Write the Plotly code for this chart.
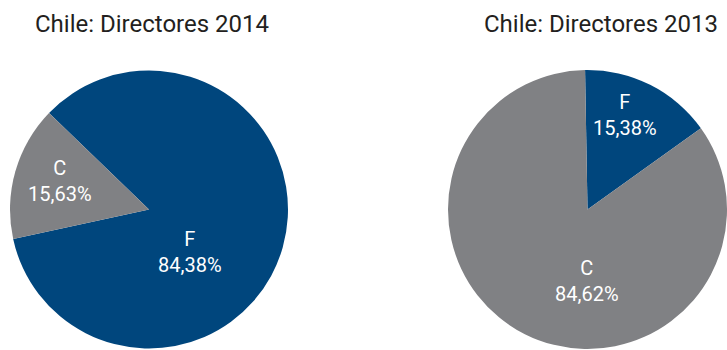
import plotly.graph_objects as go

labels_2014 = ["F", "C"]
values_2014 = [84.38, 15.63]
labels_2013 = ["F", "C"]
values_2013 = [15.38, 84.62]
titles = ["Chile: Directores 2014", "Chile: Directores 2013"]

BLUE = "#00467d"
GRAY = "#808184"
W, H = 727, 350
FONT = "Roboto"

def px(x0, x1):
    return [x0 / W, x1 / W]

def py(top, bottom):
    return [1 - bottom / H, 1 - top / H]

def fmt(v):
    return f"{v:.2f}".replace(".", ",") + "%"

fig = go.Figure()
pies = [
    (labels_2014, values_2014, -46, px(10, 288)),
    (labels_2013, values_2013, -1, px(448, 727)),
]
for labs, vals, rot, dx in pies:
    fig.add_trace(go.Pie(
        labels=labs, values=vals, sort=False, direction="clockwise",
        rotation=rot, marker=dict(colors=[BLUE, GRAY], line=dict(width=0)),
        textinfo="none", domain=dict(x=dx, y=py(70, 349)),
        showlegend=False, hoverinfo="skip",
    ))

# label positions (pixels) for each slice
label_pos = [
    [(190, 252), (60, 181)],
    [(625, 115), (587, 281)],
]
for (labs, vals, _, _), pos in zip(pies, label_pos):
    for lab, v, (x, y) in zip(labs, vals, pos):
        fig.add_annotation(text=f"{lab}<br>{fmt(v)}", x=x / W, y=1 - y / H,
                           xref="paper", yref="paper", xanchor="center", yanchor="middle",
                           showarrow=False, align="center",
                           font=dict(size=20, color="white", family=FONT))

for t, cx in zip(titles, [151.5, 601]):
    fig.add_annotation(text=t, x=cx / W, y=1 - 24 / H, xref="paper", yref="paper",
                       xanchor="center", yanchor="middle", showarrow=False,
                       font=dict(size=24, color="#231f20", family=FONT))

fig.update_layout(width=W, height=H, margin=dict(l=0, r=0, t=0, b=0),
                  paper_bgcolor="white", plot_bgcolor="white")
fig.write_html("out.html")
